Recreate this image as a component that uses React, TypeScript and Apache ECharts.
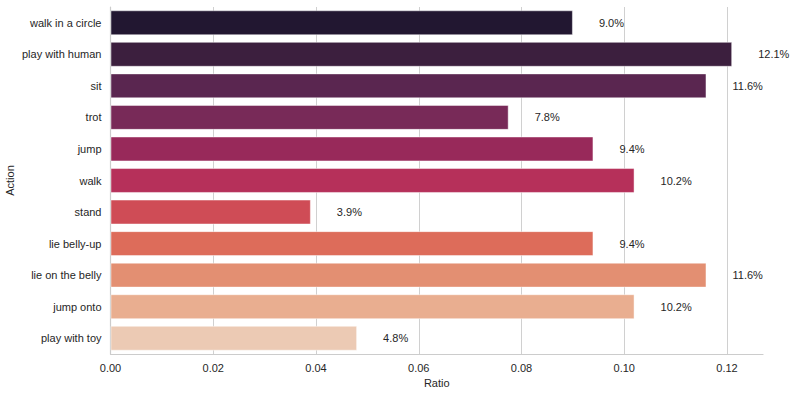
import React, { useEffect, useRef } from "react";
import * as echarts from "echarts";

const categories = [
  "walk in a circle",
  "play with human",
  "sit",
  "trot",
  "jump",
  "walk",
  "stand",
  "lie belly-up",
  "lie on the belly",
  "jump onto",
  "play with toy",
];
const ratios = [0.09, 0.121, 0.116, 0.0775, 0.094, 0.102, 0.039, 0.094, 0.116, 0.102, 0.048];
const colors = [
  "#221731",
  "#3c1f3e",
  "#5a2650",
  "#782a58",
  "#98295a",
  "#b6305a",
  "#cf4c56",
  "#dd6c5a",
  "#e38f72",
  "#e9ae90",
  "#eccab4",
];
const xTicks = [0, 0.02, 0.04, 0.06, 0.08, 0.1, 0.12];

export default function App() {
  const ref = useRef<HTMLDivElement>(null);
  useEffect(() => {
    document.body.style.margin = "0";
    const chart = echarts.init(ref.current!, null, { renderer: "svg" });
    const font = "Liberation Sans, Arial, sans-serif";
    chart.setOption({
      animation: false,
      grid: { left: 110.5, right: 34, top: 7, bottom: 41, containLabel: false, outerBoundsMode: "none" },
      xAxis: {
        type: "value",
        min: 0,
        max: 0.127,
        interval: 0.02,
        name: "Ratio",
        nameLocation: "middle",
        nameGap: 23,
        nameMoveOverlap: false,
        nameTextStyle: { fontFamily: font, fontSize: 11, color: "#262626" },
        axisLine: { show: true, lineStyle: { color: "#cccccc", width: 1.2 } },
        axisTick: { show: false },
        axisLabel: {
          fontFamily: font,
          fontSize: 11,
          color: "#262626",
          margin: 8,
          showMaxLabel: false,
          formatter: (v: number) => (xTicks.some((t) => Math.abs(t - v) < 1e-9) ? v.toFixed(2) : ""),
        },
        splitLine: { show: true, showMaxLine: false, lineStyle: { color: "#d0d0d0", width: 1 } },
      },
      yAxis: {
        type: "category",
        data: categories,
        inverse: true,
        name: "Action",
        nameLocation: "middle",
        nameRotate: 90,
        nameGap: 95,
        nameMoveOverlap: false,
        nameTextStyle: { fontFamily: font, fontSize: 11, color: "#262626" },
        axisLine: { show: true, lineStyle: { color: "#cccccc", width: 1.2 } },
        axisTick: { show: false },
        axisLabel: { fontFamily: font, fontSize: 11, color: "#262626", margin: 9 },
        splitLine: { show: false },
      },
      series: [
        {
          type: "bar",
          data: ratios.map((v, i) => ({ value: v, itemStyle: { color: colors[i] } })),
          barWidth: "79%",
          itemStyle: { borderColor: "rgba(255,255,255,0.45)", borderWidth: 1 },
          label: {
            show: true,
            position: "right",
            distance: 26,
            fontFamily: font,
            fontSize: 11,
            color: "#262626",
            formatter: (p: any) => (p.value * 100).toFixed(1) + "%",
          },
        },
      ],
    });
    return () => chart.dispose();
  }, []);
  return <div ref={ref} style={{ width: 797, height: 395 }} />;
}
